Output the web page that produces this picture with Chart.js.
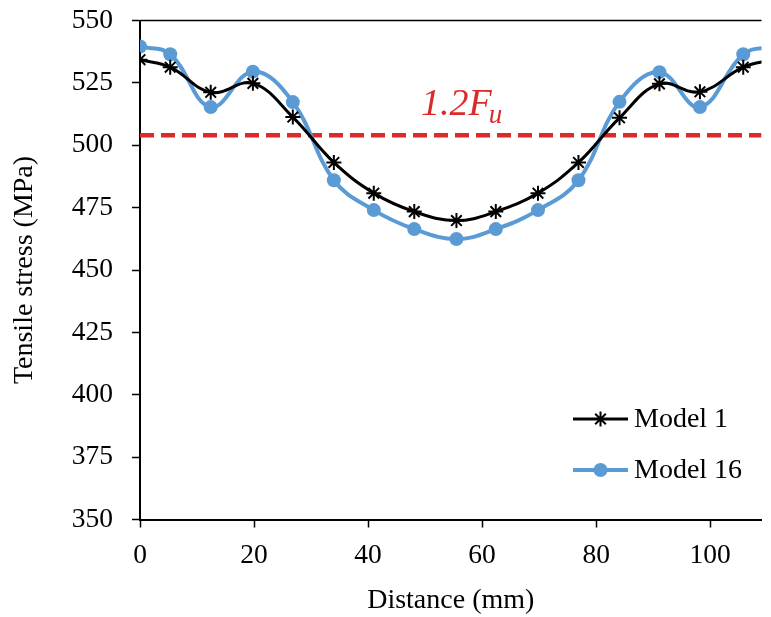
<!DOCTYPE html>
<html>
<head>
<meta charset="utf-8">
<script src="https://cdn.jsdelivr.net/npm/chart.js@4.4.1/dist/chart.umd.min.js"></script>
<style>
    html, body { margin: 0; padding: 0; background: #fff; overflow: hidden; }
    #wrap { position: relative; width: 771px; height: 617px; }
    #grafico { display: block; }
</style>
</head>
<body>
<div id="wrap"><canvas id="grafico"></canvas></div>
<script>
// dados
const distancia = [0, 5.3, 12.4, 19.8, 26.8, 34.0, 41.0, 48.1, 55.5, 62.4, 69.8, 76.9, 84.1, 91.1, 98.2, 105.8, 111.0];
const model1 = [534.3, 531.3, 521.2, 524.8, 511.3, 493.1, 480.8, 473.4, 469.8, 473.4, 480.8, 493.1, 511.0, 524.6, 521.4, 531.3, 534.3];
const model16 = [539.6, 536.5, 515.3, 529.5, 517.3, 486.0, 474.0, 466.4, 462.4, 466.4, 474.0, 486.0, 517.4, 529.3, 515.3, 536.5, 539.6];
const limite = 504; // 1.2Fu
const xMin = 0, xMax = 109, xStep = 20;
const yMin = 350, yMax = 550, yStep = 25;
const nomes = ['Model 1', 'Model 16'];

const fonte = "'Liberation Serif', 'Times New Roman', serif";
const vermelho = '#dc2a2a';
const azul = '#5b9bd5';

const pontos = (ys) => distancia.map((x, i) => ({ x: x, y: ys[i] }));

// moldura superior
const molduraTopo = {
    id: 'molduraTopo',
    afterDraw(chart) {
        const { ctx, chartArea } = chart;
        ctx.save();
        ctx.strokeStyle = '#000';
        ctx.lineWidth = 1.5;
        ctx.beginPath();
        ctx.moveTo(chartArea.left, chartArea.top);
        ctx.lineTo(chartArea.right, chartArea.top);
        ctx.stroke();
        ctx.restore();
    }
};

// rótulo 1.2Fu
const rotuloLimite = {
    id: 'rotuloLimite',
    afterDatasetsDraw(chart) {
        const { ctx, scales } = chart;
        const x = scales.x.getPixelForValue(49.3);
        const y = scales.y.getPixelForValue(512);
        ctx.save();
        ctx.fillStyle = vermelho;
        ctx.textBaseline = 'alphabetic';
        ctx.font = `italic 38px ${fonte}`;
        ctx.fillText('1.2F', x, y);
        const w = ctx.measureText('1.2F').width;
        ctx.font = `italic 27px ${fonte}`;
        ctx.fillText('u', x + w - 3, y + 8);
        ctx.restore();
    }
};

function estrela(ctx, cx, cy, r) {
    ctx.beginPath();
    for (let k = 0; k < 4; k++) {
        const a = k * Math.PI / 4;
        ctx.moveTo(cx - r * Math.cos(a), cy - r * Math.sin(a));
        ctx.lineTo(cx + r * Math.cos(a), cy + r * Math.sin(a));
    }
    ctx.stroke();
}

// legenda desenhada (linha + marcador)
const legenda = {
    id: 'legenda',
    afterDraw(chart) {
        const { ctx } = chart;
        const x0 = 573, x1 = 628, linhas = [419, 470];
        ctx.save();
        ctx.font = `28px ${fonte}`;
        ctx.textBaseline = 'middle';
        linhas.forEach((y, i) => {
            const ds = chart.data.datasets[i];
            ctx.strokeStyle = ds.borderColor;
            ctx.lineWidth = ds.borderWidth;
            ctx.beginPath();
            ctx.moveTo(x0, y);
            ctx.lineTo(x1, y);
            ctx.stroke();
            const cx = (x0 + x1) / 2;
            if (ds.pointStyle === 'star') {
                ctx.lineWidth = ds.pointBorderWidth;
                estrela(ctx, cx, y, ds.pointRadius);
            } else {
                ctx.fillStyle = ds.pointBackgroundColor;
                ctx.beginPath();
                ctx.arc(cx, y, ds.pointRadius, 0, Math.PI * 2);
                ctx.fill();
            }
            ctx.fillStyle = '#000';
            ctx.fillText(nomes[i], x1 + 6, y + 1);
        });
        ctx.restore();
    }
};

// tira o espaço extra que o Chart.js reserva para os rótulos das pontas
const semPadding = (s) => {
    s.paddingTop = 0;
    s.paddingBottom = 0;
    s.paddingLeft = 0;
    s.paddingRight = 0;
};

const ctxGrafico = document.getElementById('grafico').getContext('2d');
new Chart(ctxGrafico, {
    type: 'line',
    data: {
        datasets: [
            {
                label: nomes[0],
                data: pontos(model1),
                borderColor: '#000',
                backgroundColor: '#000',
                borderWidth: 3,
                pointStyle: 'star',
                pointRadius: 7.5,
                pointBorderWidth: 2,
                pointBorderColor: '#000',
                pointBackgroundColor: '#000',
                tension: 0.4,
                order: 1
            },
            {
                label: nomes[1],
                data: pontos(model16),
                borderColor: azul,
                backgroundColor: azul,
                borderWidth: 4,
                pointStyle: 'circle',
                pointRadius: 7,
                pointBorderWidth: 0,
                pointBackgroundColor: azul,
                tension: 0.4,
                order: 2
            },
            {
                label: '1.2Fu',
                data: [{ x: xMin, y: limite }, { x: xMax, y: limite }],
                borderColor: vermelho,
                borderWidth: 4.5,
                borderDash: [14, 7],
                pointRadius: 0,
                order: 3
            }
        ]
    },
    options: {
        responsive: true,
        maintainAspectRatio: false,
        animation: false,
        layout: { padding: { top: 20.5, right: 0, left: 0, bottom: 0 } },
        plugins: {
            legend: { display: false },
            tooltip: { enabled: false }
        },
        scales: {
            x: {
                type: 'linear',
                min: xMin,
                max: xMax,
                afterFit: (s) => { s.height = 97.5; semPadding(s); },
                ticks: {
                    stepSize: xStep,
                    includeBounds: false,
                    color: '#000',
                    padding: 12,
                    font: { family: fonte, size: 27.5 },
                    maxRotation: 0
                },
                grid: { drawOnChartArea: false, drawTicks: true, tickLength: 8, color: '#000', tickWidth: 1.5 },
                border: { display: true, color: '#000', width: 2 },
                title: {
                    display: true,
                    text: 'Distance (mm)',
                    color: '#000',
                    font: { family: fonte, size: 28 },
                    padding: { top: 0, bottom: 0 }
                }
            },
            y: {
                min: yMin,
                max: yMax,
                afterFit: (s) => { s.width = 140; semPadding(s); },
                ticks: {
                    stepSize: yStep,
                    includeBounds: false,
                    color: '#000',
                    padding: 19,
                    font: { family: fonte, size: 27.5 }
                },
                grid: { drawOnChartArea: false, drawTicks: true, tickLength: 8, color: '#000', tickWidth: 1.5 },
                border: { display: true, color: '#000', width: 2 },
                title: {
                    display: true,
                    text: 'Tensile stress (MPa)',
                    color: '#000',
                    font: { family: fonte, size: 28 },
                    padding: { top: 8, bottom: 0 }
                }
            }
        }
    },
    plugins: [molduraTopo, rotuloLimite, legenda]
});
</script>
</body>
</html>
